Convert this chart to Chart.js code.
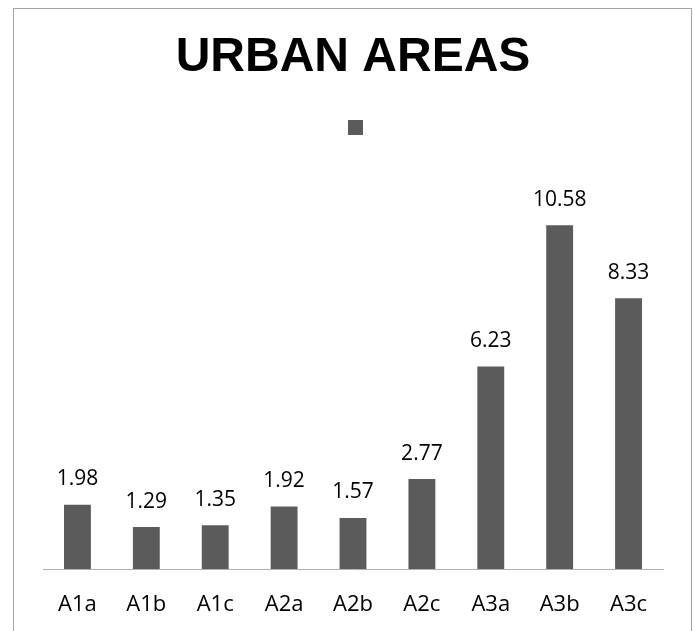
<!DOCTYPE html>
<html>
<head>
<meta charset="utf-8">
<script src="https://cdn.jsdelivr.net/npm/chart.js@4/dist/chart.umd.min.js"></script>
<style>
  html, body { margin: 0; padding: 0; background: #ffffff; overflow: hidden; }
  #wrap { position: relative; width: 695px; height: 631px; overflow: hidden; }
  #frame { position: absolute; left: 13px; top: 8px; width: 677px; height: 700px; border: 1px solid #a6a6a6; box-sizing: content-box; }
  canvas { position: absolute; left: 0; top: 0; }
</style>
</head>
<body>
<div id="wrap">
  <div id="frame"></div>
  <canvas id="c" width="695" height="660"></canvas>
</div>
<script>
const titleText = 'URBAN AREAS';
const categories = ['A1a', 'A1b', 'A1c', 'A2a', 'A2b', 'A2c', 'A3a', 'A3b', 'A3c'];
const values = [1.98, 1.29, 1.35, 1.92, 1.57, 2.77, 6.23, 10.58, 8.33];
const seriesName = '';
const yMax = 13.05;

const valueLabels = {
  id: 'valueLabels',
  afterDatasetsDraw(chart) {
    const ctx = chart.ctx;
    ctx.save();
    ctx.font = '21px "Open Sans"';
    ctx.fillStyle = '#000000';
    ctx.textAlign = 'center';
    ctx.textBaseline = 'alphabetic';
    chart.data.datasets.forEach((ds, di) => {
      const meta = chart.getDatasetMeta(di);
      meta.data.forEach((bar, i) => {
        ctx.fillText(ds.data[i].toFixed(2), bar.x, bar.y - 19.5);
      });
    });
    ctx.restore();
  }
};

new Chart(document.getElementById('c'), {
  type: 'bar',
  data: {
    labels: categories,
    datasets: [{
      label: seriesName,
      data: values,
      backgroundColor: '#5b5b5b',
      borderWidth: 0,
      categoryPercentage: 1.0,
      barPercentage: 0.39
    }]
  },
  options: {
    responsive: false,
    animation: false,
    events: [],
    layout: { padding: { left: 43, right: 32, top: 0, bottom: 18.6 } },
    plugins: {
      title: {
        display: true,
        text: titleText,
        color: '#000000',
        font: { family: '"Liberation Sans", Arial, sans-serif', size: 48, weight: 'bold' },
        padding: { top: 29.2, bottom: 23.2 }
      },
      legend: {
        display: true,
        position: 'top',
        rtl: true,
        labels: {
          boxWidth: 15,
          boxHeight: 15,
          padding: 10,
          font: { size: 10 },
          color: '#000000'
        }
      },
      tooltip: { enabled: false }
    },
    scales: {
      x: {
        grid: { display: false, drawTicks: false },
        border: { display: true, color: '#b0b0b0', width: 1 },
        ticks: {
          color: '#000000',
          font: { family: '"Open Sans", sans-serif', size: 22 },
          padding: 23,
          autoSkip: false,
          maxRotation: 0
        }
      },
      y: {
        display: false,
        min: 0,
        max: yMax
      }
    }
  },
  plugins: [valueLabels]
});
</script>
</body>
</html>
